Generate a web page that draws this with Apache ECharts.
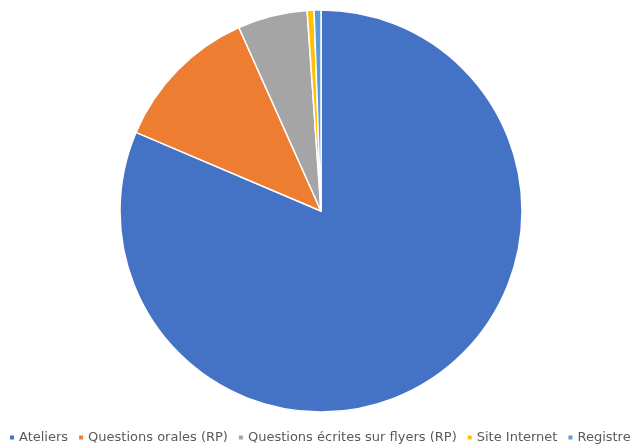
<!DOCTYPE html>
<html><head><meta charset="utf-8">
<script src="https://cdn.jsdelivr.net/npm/echarts@6/dist/echarts.min.js"></script>
<style>html,body{margin:0;padding:0;background:#fff}#c{width:638px;height:448px}</style>
</head><body><div id="c"></div>
<script>
const categories = ["Ateliers", "Questions orales (RP)", "Questions écrites sur flyers (RP)", "Site Internet", "Registre"];
const values = [81.4, 11.9, 5.6, 0.55, 0.55];
const colors = ["#4472C4", "#ED7D31", "#A5A5A5", "#FFC000", "#5B9BD5"];

const chart = echarts.init(document.getElementById('c'));
chart.setOption({
  animation: false,
  color: colors,
  legend: {
    top: 431, left: 8, width: 680,
    padding: 0,
    itemWidth: 6, itemHeight: 6, itemGap: 9,
    icon: 'rect',
    textStyle: {fontFamily: 'DejaVu Sans', fontSize: 13, color: '#595959', padding: [0,0,0,-1]},
    data: categories
  },
  series: [{
    type: 'pie',
    center: [321, 211],
    radius: 201,
    startAngle: 90,
    clockwise: true,
    label: {show: false},
    labelLine: {show: false},
    itemStyle: {borderColor: '#fff', borderWidth: 1.5},
    data: categories.map((c, i) => ({name: c, value: values[i]}))
  }]
});
</script></body></html>
